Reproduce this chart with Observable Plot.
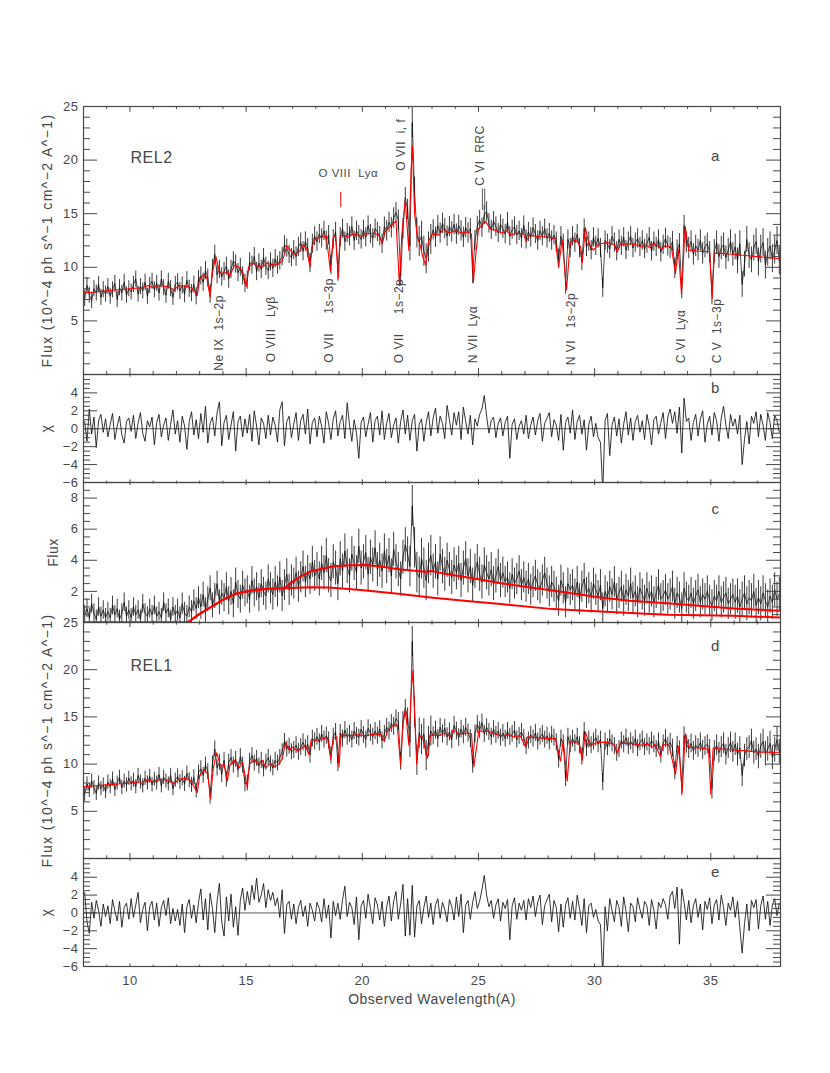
<!DOCTYPE html>
<html><head><meta charset="utf-8">
<script src="https://cdn.jsdelivr.net/npm/d3@7"></script>
<script src="https://cdn.jsdelivr.net/npm/@observablehq/plot@0.6"></script>
<style>
html,body{margin:0;padding:0;background:#fff;width:830px;height:1073px;overflow:hidden}
#fig{position:relative;width:830px;height:1073px;background:#fff}
</style></head><body><div id="fig"></div>
<script>
// ---- bin grid (bin centres in Å) ----
const binStart = 8.05, binStep = 0.1;

// ---- panel a : REL2 flux (10^-4 ph s^-1 cm^-2 A^-1) ----
const fluxA = [
7.1,8.3,7.4,6.9,8.0,7.6,8.4,7.2,7.9,7.5,
8.2,7.3,7.9,8.5,7.0,8.1,7.6,8.6,7.4,8.0,
7.7,8.4,8.9,7.5,8.2,7.8,8.6,7.3,8.3,8.7,
7.9,8.5,7.6,8.9,8.1,7.4,8.7,8.0,7.2,8.4,
8.6,7.8,8.3,7.5,8.8,8.0,7.6,8.4,7.3,8.9,
9.2,8.6,9.7,9.0,7.5,9.9,11.2,9.3,9.8,9.1,
9.6,10.1,8.9,9.8,10.6,10.3,9.5,10.0,9.2,8.5,
8.8,10.5,10.2,11.0,9.6,10.4,9.8,10.9,10.1,9.7,
10.5,9.9,10.8,10.2,10.6,11.0,12.1,11.8,11.2,10.9,
11.6,11.0,11.9,12.3,11.5,12.4,11.8,10.4,12.2,12.9,
12.4,13.1,12.7,13.4,12.5,13.0,10.2,12.6,13.3,9.6,
12.8,13.6,12.4,13.2,12.9,13.8,12.5,13.4,13.0,12.6,
13.5,12.8,13.9,13.1,12.7,13.6,13.3,12.9,12.2,13.8,
13.4,14.2,13.7,14.6,15.1,14.4,9.2,13.6,16.5,15.4,
12.0,23.5,17.0,13.2,12.4,12.9,11.5,10.8,11.9,12.6,
13.5,12.8,13.9,13.2,14.1,13.6,12.9,13.8,13.3,14.0,
13.1,13.9,13.4,12.8,13.7,13.2,13.6,9.4,12.5,13.8,
14.4,13.7,14.9,15.2,14.1,13.5,14.3,13.8,13.2,14.0,
13.6,13.1,14.2,12.9,13.5,13.8,13.0,13.4,12.7,13.9,
12.6,13.3,12.8,13.7,13.1,12.5,13.4,12.9,13.6,12.7,
13.2,12.5,13.0,12.4,10.8,12.9,12.2,8.4,12.6,11.8,
12.9,12.3,13.1,11.8,10.6,13.6,11.9,12.4,11.6,12.8,
12.0,12.7,11.8,8.1,12.5,12.2,11.7,12.9,12.3,11.5,
12.6,12.0,12.8,11.6,12.4,12.9,11.8,12.3,12.7,11.9,
12.5,11.7,12.2,12.8,11.5,12.4,11.9,12.6,11.4,12.1,
12.7,12.0,11.8,12.4,9.9,11.6,12.2,8.0,13.9,12.3,
11.8,12.4,11.2,12.0,11.6,12.5,11.3,11.9,12.2,11.4,
7.6,11.5,12.3,11.0,11.8,12.1,10.9,11.6,12.4,11.2,
11.9,10.6,12.2,8.4,10.3,12.6,11.1,10.7,11.8,12.4,
10.5,11.7,12.3,10.2,11.4,12.0,10.8,11.6,12.5,10.6];
// 1-sigma error per 1-Å block (8..37 Å)
const errA = [0.75,0.75,0.75,0.75,0.8,0.85,0.85,0.85,0.85,0.9,0.9,0.9,0.9,0.95,1.4,0.95,0.95,0.9,0.9,0.9,0.9,0.9,0.9,0.9,0.9,0.95,1.0,1.1,1.2,1.3];
const modelA = [[8.0,7.6],[8.5,7.7],[9.0,7.8],[9.5,7.9],[10.0,8.0],[10.5,8.1],[10.8,8.3],[11.0,8.1],[11.2,8.3],[11.6,8.2],[11.9,7.9],[12.1,8.3],[12.5,8.2],[12.7,8.0],[12.9,7.4],[13.0,8.9],[13.15,9.3],[13.3,9.1],[13.45,7.2],[13.55,9.5],[13.7,11.0],[13.85,9.6],[14.0,9.4],[14.2,9.6],[14.3,9.2],[14.5,10.2],[14.7,10.0],[14.85,9.6],[15.0,8.2],[15.1,10.0],[15.3,10.4],[15.5,10.1],[15.7,10.0],[15.9,10.4],[16.0,10.3],[16.2,10.2],[16.4,10.3],[16.55,10.6],[16.65,11.2],[16.75,12.0],[16.9,11.6],[17.1,11.2],[17.3,11.5],[17.45,12.1],[17.6,11.8],[17.75,10.0],[17.85,12.0],[18.0,12.7],[18.2,12.8],[18.45,12.9],[18.63,9.6],[18.75,12.8],[18.85,12.9],[18.97,9.0],[19.05,12.9],[19.2,13.0],[19.4,12.8],[19.6,13.1],[19.8,13.0],[20.0,12.9],[20.2,13.1],[20.5,13.2],[20.7,13.0],[20.87,12.3],[21.0,13.4],[21.2,13.8],[21.45,14.3],[21.6,8.3],[21.7,13.0],[21.85,16.3],[22.0,11.6],[22.1,19.0],[22.16,21.3],[22.25,15.0],[22.37,12.8],[22.5,12.0],[22.6,11.0],[22.73,10.2],[22.85,12.4],[23.0,13.1],[23.3,13.0],[23.5,13.6],[23.7,13.2],[24.0,13.4],[24.3,13.2],[24.5,13.3],[24.7,13.1],[24.78,8.6],[24.9,11.5],[25.0,13.6],[25.1,13.8],[25.3,14.3],[25.5,13.6],[25.8,13.4],[26.0,13.2],[26.2,13.4],[26.4,13.0],[26.6,13.2],[26.95,13.1],[27.05,12.4],[27.2,13.0],[27.5,12.9],[28.0,12.8],[28.3,12.7],[28.45,10.0],[28.6,12.6],[28.79,7.9],[28.95,12.3],[29.2,12.6],[29.4,11.9],[29.47,10.4],[29.6,13.7],[29.75,12.2],[29.95,11.6],[30.2,12.2],[30.6,12.3],[30.85,12.1],[30.97,11.4],[31.1,12.1],[31.5,12.2],[31.8,12.1],[32.0,11.9],[32.2,12.1],[32.4,11.8],[32.5,12.2],[32.7,12.0],[32.9,11.7],[33.0,12.0],[33.3,11.9],[33.48,9.4],[33.6,11.7],[33.74,7.5],[33.9,13.8],[34.05,11.6],[34.5,11.5],[34.95,11.45],[35.06,7.1],[35.15,11.3],[35.5,11.3],[36.0,11.2],[36.5,11.1],[37.0,11.0],[37.5,10.9],[38.0,10.8]];

// ---- panel b : residuals chi (REL2) ----
const chiB = [
0.8,-1.4,2.2,-0.6,1.3,-2.1,0.9,1.6,-0.4,1.1,
-0.9,0.5,1.7,-1.2,0.3,1.4,-0.7,-1.6,0.8,1.2,
-0.3,1.5,-1.1,0.6,1.8,-0.5,-1.4,0.9,0.2,1.3,
-1.8,0.7,1.6,-0.9,0.4,1.2,-1.3,0.5,2.1,-0.6,
0.9,-1.5,1.4,0.3,-2.3,0.8,1.9,-0.7,1.0,-1.1,
1.7,-0.4,2.5,-1.6,0.6,1.3,-0.8,1.8,3.0,-1.9,
0.7,1.5,-1.2,0.4,1.9,-2.5,0.8,1.4,-0.9,1.1,
-0.5,1.6,-1.4,2.0,0.3,-1.8,1.2,0.6,-1.1,1.5,
-0.7,1.3,0.4,-1.5,2.1,3.0,-1.9,0.8,1.4,-1.0,
0.5,1.8,-1.3,0.9,1.6,-0.6,2.2,-1.7,0.7,1.2,
-0.9,1.4,0.3,-1.6,1.9,0.6,-1.2,1.1,2.0,-0.8,
0.8,1.5,-1.1,2.9,0.4,-1.4,1.0,-0.5,-3.3,0.7,
1.3,-0.9,0.5,1.8,-1.5,0.9,1.4,-0.7,2.0,-1.2,
0.6,1.7,-1.0,0.4,1.2,-1.6,0.8,2.1,-0.6,1.5,
-1.3,0.9,1.6,-2.5,0.5,1.1,-1.4,0.7,1.9,-0.8,
1.2,2.3,-0.5,1.4,0.6,-1.1,2.6,1.0,-0.7,1.8,
0.4,1.9,-1.2,2.4,0.8,-0.6,1.5,-1.8,1.1,0.3,
1.6,2.2,3.7,1.4,-0.5,0.9,1.3,-1.0,0.6,1.2,
-0.8,0.7,1.4,-3.3,0.5,1.1,-1.2,0.3,0.9,-0.6,
1.5,-1.1,0.4,1.3,-0.7,0.9,1.7,-1.4,0.6,1.2,
1.8,-0.9,1.0,0.4,-1.3,1.6,-2.4,0.7,1.3,-0.5,
2.1,-1.2,0.8,1.5,-0.6,1.0,-2.4,0.5,1.4,-0.9,
0.6,-1.0,-1.5,-7.0,0.9,1.7,-3.0,0.4,1.3,-0.8,
1.1,-1.6,0.5,1.9,-0.7,1.2,-1.3,0.8,1.5,-0.4,
0.9,-1.2,1.6,0.3,-1.8,1.0,1.4,-0.6,0.7,1.8,
-1.1,1.3,2.2,0.6,1.9,-0.5,2.4,-2.7,3.4,0.8,
1.2,-1.3,0.7,1.6,-0.8,1.1,2.0,-1.5,0.5,1.4,
-0.7,1.8,0.9,-1.4,1.2,2.5,0.4,-1.1,1.6,0.3,
1.1,-0.6,1.5,-4.0,-1.2,0.8,-1.7,1.4,0.6,1.9,
-0.9,1.6,0.4,-1.3,1.8,0.7,-1.1,1.5,0.9,-0.4];

// ---- panel c : flux with two model components ----
const fluxC = [
0.5,0.9,0.3,1.2,0.6,0.2,1.0,0.4,0.8,0.3,
0.7,0.3,1.1,0.5,0.9,0.2,0.6,1.3,0.4,0.8,
0.3,1.0,0.5,0.8,0.2,1.2,0.6,0.4,0.9,0.5,
1.1,0.4,0.7,0.3,1.3,0.6,0.9,0.2,1.0,0.5,
0.8,0.3,1.2,0.6,0.4,1.0,0.7,1.4,0.9,1.6,
1.0,1.8,0.8,1.5,2.2,1.1,1.7,2.5,1.3,1.9,
1.6,2.3,1.4,2.0,1.2,2.6,1.8,1.5,2.4,1.9,
2.1,1.5,2.7,1.9,2.3,1.6,2.5,2.0,1.7,2.8,
2.2,1.8,2.6,2.0,2.9,1.7,2.4,3.1,2.1,2.7,
2.5,3.2,2.3,2.9,3.6,2.6,3.3,2.8,3.9,3.0,
3.4,2.8,3.8,3.2,4.3,3.0,2.7,3.9,3.5,2.5,
4.1,3.3,4.6,3.6,3.0,4.4,3.8,3.2,4.9,3.5,
3.9,4.5,3.1,4.2,3.7,4.8,3.4,4.0,3.3,4.6,
3.6,4.3,3.0,4.7,3.9,3.4,2.8,4.2,5.0,4.4,
3.6,7.5,4.8,3.2,2.9,4.1,3.5,2.7,3.8,4.3,
3.3,3.9,2.8,4.4,3.6,3.1,4.0,3.4,2.9,3.7,
3.2,3.8,2.7,3.5,4.1,3.0,3.6,2.4,3.3,3.9,
3.1,2.6,3.7,3.2,2.8,3.4,2.5,3.0,3.6,2.7,
3.2,2.6,2.9,2.2,3.1,2.5,2.8,3.3,2.4,2.9,
2.3,2.8,2.1,2.6,3.0,2.4,2.2,2.7,3.2,2.5,
2.0,2.6,2.3,1.9,1.4,2.7,2.2,1.3,2.5,2.1,
2.4,1.8,2.6,1.5,2.3,2.8,1.9,2.2,1.6,2.5,
2.1,1.7,2.4,0.9,2.0,1.6,2.3,1.8,2.6,1.5,
1.9,2.3,1.4,2.1,1.7,2.5,1.6,2.0,1.3,2.2,
1.8,1.4,2.2,1.6,2.0,1.3,1.9,2.4,1.5,1.7,
2.1,1.5,1.8,2.3,1.2,1.9,1.6,0.9,2.2,1.6,
1.4,1.9,1.2,1.7,2.1,1.3,1.8,1.5,2.0,1.4,
1.1,1.7,1.4,2.0,1.3,1.6,1.9,1.2,1.5,1.8,
1.3,1.7,1.0,1.5,1.9,1.2,1.6,1.4,2.0,1.1,
1.6,1.2,1.9,1.4,1.0,1.7,1.3,2.1,1.5,1.8];
const errC = [0.6,0.6,0.6,0.6,0.7,0.8,0.9,0.9,1.0,1.0,1.1,1.1,1.1,1.1,1.3,1.1,1.1,1.1,1.0,1.0,1.0,1.0,1.0,1.0,1.0,1.0,1.0,1.0,1.1,1.1];
const modelCLow = [[8,0],[12.47,0],[13.0,0.55],[13.5,1.0],[14.0,1.45],[14.5,1.83],[15.34,2.09],[16.0,2.17],[16.63,2.2],[17.78,2.26],[18.5,2.25],[19.0,2.2],[19.93,2.09],[21.65,1.83],[22.94,1.61],[24.5,1.38],[25.96,1.19],[28.2,0.86],[30.25,0.71],[33.12,0.5],[35.98,0.43],[38,0.32]];
const modelCHigh = [[8,0],[12.47,0],[13.0,0.55],[13.5,1.0],[14.0,1.45],[14.5,1.83],[15.34,2.09],[16.0,2.17],[16.63,2.2],[17.06,2.69],[17.4,3.0],[17.78,3.29],[18.78,3.61],[19.5,3.68],[20.2,3.7],[21.0,3.55],[21.65,3.4],[22.5,3.3],[22.85,3.25],[22.94,3.32],[23.5,3.15],[24.95,2.8],[25.96,2.52],[27.0,2.3],[28.2,2.05],[30.25,1.61],[31.5,1.4],[33.12,1.23],[35.98,0.9],[38,0.75]];

// ---- panel d : REL1 flux ----
const fluxD = [
6.8,7.9,7.2,8.2,7.5,6.9,8.0,7.4,7.8,7.1,
8.1,7.6,8.4,7.3,8.0,8.6,7.5,8.2,7.8,8.5,
7.9,8.3,7.6,8.8,8.1,7.7,8.5,8.0,8.7,7.8,
8.4,8.0,8.9,7.7,8.6,8.2,7.9,8.8,7.4,8.3,
8.7,8.1,8.5,7.9,9.0,8.3,7.8,8.6,7.2,9.1,
9.5,8.8,9.9,9.2,6.6,10.0,11.6,9.6,10.2,8.9,
10.4,8.4,10.2,10.7,9.9,10.5,9.4,10.8,9.9,7.9,
8.0,10.3,10.9,10.1,10.6,9.8,10.4,9.5,10.2,10.7,
10.0,9.6,10.4,10.1,10.7,11.3,12.4,11.6,11.9,11.3,
11.5,12.0,11.3,11.8,12.3,11.7,12.1,11.0,12.7,12.4,
12.9,12.3,13.2,12.6,13.0,12.5,10.9,12.9,13.4,10.1,
13.3,12.7,13.6,12.9,13.2,12.6,13.5,13.0,12.8,13.7,
13.1,12.6,13.8,13.3,12.9,13.5,13.0,13.7,12.5,13.2,
13.9,13.5,14.3,14.0,14.8,14.5,10.3,14.6,15.9,15.0,
12.3,23.0,15.5,10.4,13.3,12.6,13.2,10.9,12.4,13.5,
13.0,13.6,12.7,13.9,13.2,13.8,12.9,13.4,12.6,14.1,
13.5,12.8,13.7,13.1,13.9,13.3,12.7,10.0,13.2,14.2,
13.6,14.4,13.2,13.9,13.4,12.9,13.7,13.1,13.5,12.8,
13.3,12.7,13.5,12.9,13.2,13.6,12.6,13.0,13.4,12.8,
11.9,12.5,13.1,12.7,13.3,12.4,12.9,13.2,12.6,13.0,
12.4,13.1,12.8,12.3,10.5,12.7,12.2,8.5,12.9,12.1,
12.7,12.2,12.9,12.0,10.8,13.5,11.7,12.6,12.0,12.4,
12.8,12.1,12.6,8.1,12.4,11.8,12.7,12.2,11.9,11.2,
11.6,12.5,12.1,12.8,11.9,12.4,12.0,12.7,11.7,12.3,
12.6,11.8,12.3,11.9,12.5,12.1,11.6,12.4,11.0,12.2,
12.7,11.9,12.3,11.7,9.3,12.0,11.5,7.6,13.0,12.1,
11.6,12.2,11.4,12.0,11.7,12.3,11.5,11.9,12.1,11.6,
7.4,11.4,12.0,11.2,11.8,12.2,11.0,11.7,12.3,11.3,
12.1,11.0,11.7,8.8,10.9,11.6,11.8,12.5,11.2,11.6,
10.8,11.9,12.4,11.1,11.6,12.2,10.7,11.5,12.6,11.3];
const errD = [0.75,0.75,0.75,0.75,0.8,0.85,0.85,0.85,0.85,0.9,0.9,0.9,0.9,0.95,1.6,0.95,0.95,0.9,0.9,0.9,0.9,0.9,0.9,0.9,0.9,0.95,1.0,1.1,1.2,1.3];
const modelD = [[8.0,7.6],[8.5,7.7],[9.0,7.8],[9.5,7.9],[10.0,8.0],[10.5,8.1],[10.8,8.35],[11.0,8.1],[11.3,8.4],[11.6,8.3],[11.9,7.9],[12.1,8.4],[12.4,8.5],[12.6,8.3],[12.9,7.0],[13.0,8.8],[13.2,9.4],[13.35,8.9],[13.47,6.3],[13.58,9.5],[13.73,11.2],[13.9,9.8],[14.05,10.0],[14.19,8.2],[14.3,9.9],[14.5,10.4],[14.7,9.6],[14.85,10.2],[15.05,7.5],[15.15,10.0],[15.35,10.5],[15.5,10.0],[15.7,10.4],[15.85,9.6],[16.05,10.1],[16.2,9.7],[16.4,10.0],[16.55,10.5],[16.7,12.3],[16.85,11.5],[17.0,11.8],[17.2,11.4],[17.35,11.6],[17.55,12.0],[17.7,11.0],[17.8,12.6],[18.0,12.5],[18.3,12.7],[18.5,12.8],[18.64,10.5],[18.75,12.8],[18.9,12.9],[19.0,9.7],[19.08,13.1],[19.4,13.0],[19.8,13.1],[20.2,13.0],[20.5,13.2],[20.8,13.1],[20.95,12.4],[21.1,13.6],[21.3,14.0],[21.5,14.2],[21.65,9.8],[21.75,14.2],[21.86,15.8],[22.0,12.0],[22.1,17.5],[22.18,19.9],[22.34,10.0],[22.45,13.0],[22.6,12.8],[22.8,10.6],[22.95,13.1],[23.3,13.0],[23.6,13.3],[23.8,12.8],[23.9,13.6],[24.2,13.2],[24.5,13.3],[24.7,13.2],[24.8,9.7],[25.02,13.6],[25.2,13.4],[25.4,13.5],[25.7,13.2],[25.96,13.0],[26.3,13.1],[26.5,12.9],[26.8,13.0],[27.03,11.8],[27.1,12.9],[27.5,12.8],[28.0,12.7],[28.32,12.7],[28.53,10.3],[28.65,12.5],[28.82,8.2],[28.95,12.3],[29.2,12.4],[29.35,12.0],[29.47,10.4],[29.6,13.4],[29.8,11.9],[30.1,12.3],[30.5,12.3],[30.85,12.1],[30.97,11.1],[31.1,12.2],[31.5,12.2],[32.0,12.0],[32.3,12.1],[32.5,11.8],[32.6,12.1],[32.83,10.8],[32.95,12.1],[33.2,12.0],[33.48,8.9],[33.62,11.9],[33.77,7.0],[33.9,13.2],[34.05,11.8],[34.5,11.7],[34.9,11.6],[35.0,6.8],[35.1,11.7],[35.5,11.6],[36.0,11.5],[36.5,11.4],[37.0,11.3],[37.5,11.25],[38.0,11.2]];

// ---- panel e : residuals chi (REL1) ----
const chiE = [
2.3,-1.0,-2.3,1.2,-0.6,1.4,0.3,-1.5,1.0,-0.4,
0.8,-1.2,1.5,0.2,-0.9,1.3,-1.6,0.6,1.1,-0.7,
1.6,-0.5,0.9,2.3,-1.1,0.4,1.2,-2.0,0.7,1.3,
-0.8,1.1,-1.5,0.6,1.4,-0.3,1.7,-1.2,0.5,-0.9,
0.4,-1.4,1.0,-2.2,0.7,1.5,-0.6,0.9,-1.1,1.2,
2.7,-0.8,1.6,-1.9,2.2,0.5,-2.2,1.3,3.3,-1.0,
-2.6,1.8,-0.9,2.1,-1.6,0.7,-2.5,1.4,2.8,0.3,
2.4,0.9,3.1,1.5,3.9,1.2,2.0,3.3,0.6,2.6,
1.4,2.3,0.8,1.7,-0.5,2.6,-2.3,0.9,1.3,-0.7,
1.0,-1.2,0.6,1.4,-0.4,0.8,-1.5,1.1,0.3,-0.9,
1.2,0.5,-1.0,1.6,-0.6,0.9,-2.8,1.3,-0.3,1.1,
-0.7,1.5,3.0,-0.4,1.2,0.6,-1.3,1.8,-3.0,0.8,
1.4,-0.6,2.1,0.5,-1.2,1.7,0.9,-0.8,1.3,-1.5,
0.7,1.9,-0.9,1.3,2.4,-0.7,1.0,3.2,-2.6,1.6,
-2.5,3.1,-2.7,0.8,1.4,-1.2,0.6,1.9,-0.5,1.1,
-1.3,0.9,1.6,-0.6,1.2,0.4,-1.0,1.5,0.7,-0.8,
1.8,-0.4,2.1,-2.2,0.9,1.4,-0.7,1.2,2.4,0.5,
1.3,2.6,4.2,2.0,0.7,1.4,-0.6,0.9,1.6,-0.9,
1.2,0.5,1.5,-3.0,0.8,1.7,-0.7,1.1,0.3,1.4,
-0.8,1.6,0.6,1.9,-0.4,1.2,2.0,-1.3,0.8,1.5,
2.1,-1.0,1.4,0.6,-2.1,1.0,-1.6,0.9,1.7,-0.6,
1.3,-0.8,2.0,0.5,-1.4,1.6,-2.2,0.8,1.1,-0.5,
0.4,-0.9,-1.3,-7.0,0.7,-2.0,1.6,0.3,-1.0,1.4,
0.6,-1.5,1.8,0.2,-2.1,1.1,0.7,-1.0,1.7,0.4,
-0.6,1.3,0.8,-1.4,1.5,0.3,-1.8,1.2,0.6,1.6,
0.9,-0.7,1.9,2.4,0.5,2.9,-3.5,2.7,1.2,-0.8,
1.4,-1.1,0.8,1.6,-0.5,1.0,-1.9,1.3,0.4,1.7,
-1.2,0.9,1.5,-0.8,2.0,0.6,-1.4,1.1,0.3,1.8,
-0.5,1.3,-1.6,-4.5,-1.2,1.0,-2.0,1.4,0.6,1.5,
-1.8,0.8,1.9,-0.7,1.3,-1.4,0.9,1.6,-0.3,1.1];

// ---- line identifications (panel a) ----
const lineLabels = [
  {t: "Ne IX  1s\u22122p", w: 13.83, y: 0.35},
  {t: "O VIII   Ly\u03b2", w: 16.06, y: 1.15},
  {t: "O VII     1s\u22123p", w: 18.56, y: 1.1},
  {t: "O VII     1s\u22122p", w: 21.58, y: 1.05},
  {t: "N VII  Ly\u03b1", w: 24.78, y: 1.05},
  {t: "N VI   1s\u22122p", w: 28.99, y: 0.87},
  {t: "C VI  Ly\u03b1", w: 33.71, y: 1.05},
  {t: "C V  1s\u22123p", w: 35.28, y: 1.05},
  {t: "O VII  i, f", w: 21.68, y: 19.0},
  {t: "C VI  RRC", w: 25.09, y: 17.6}
];
const topLabel = [{t: "O VIII  Ly\u03b1", w: 19.4, y: 18.8}];
const redMarker = [{w: 19.07, y1: 15.6, y2: 17.0}];
const rrcMarker = [{w: 25.17, y1: 15.3, y2: 17.3}, {w: 25.27, y1: 15.3, y2: 17.3}];

// ---- ticks ----
const xMajor = [10,15,20,25,30,35];
const xMinor = [9,11,12,13,14,16,17,18,19,21,22,23,24,26,27,28,29,31,32,33,34,36,37];
const fluxMajor = [5,10,15,20];
const fluxMinor = [1,2,3,4,6,7,8,9,11,12,13,14,16,17,18,19,21,22,23,24];
const fluxTickLabels = [5,10,15,20,25];
const chiMajor = [-4,-2,0,2,4];
const chiMinor = [-5.5,-5,-4.5,-3.5,-3,-2.5,-1.5,-1,-0.5,0.5,1,1.5,2.5,3,3.5,4.5,5,5.5];
const chiTickLabels = [-6,-4,-2,0,2,4];
const cMajor = [2,4,6,8];
const cMinor = [0.5,1,1.5,2.5,3,3.5,4.5,5,5.5,6.5,7,7.5,8.5];
const cTickLabels = [2,4,6,8];

const fluxTitle = "Flux (10^\u22124 ph s^\u22121 cm^\u22122 A^\u22121)";

// ---------------- drawing ----------------
const AX = "#474747";
const FONT = "'Liberation Sans', Arial, sans-serif";
const W = 830, XL = 83, XR = 780, PW = XR - XL;
const fig = document.getElementById("fig");

function bins(vals, errs) {
  return vals.map((v, i) => ({w: binStart + i * binStep, v, e: errs ? errs[Math.floor(i / 10)] : 0}));
}
const binsA = bins(fluxA, errA), binsC = bins(fluxC, errC), binsD = bins(fluxD, errD);
const binsB = bins(chiB), binsE = bins(chiE);

function frameMarks(h, yMaj, yMin) {
  const xtM = Math.max(2.6, 0.022 * h), xtm = xtM / 2;
  return [
    Plot.tickY(yMaj, {y: d => d, insetRight: PW - 14, stroke: AX}),
    Plot.tickY(yMaj, {y: d => d, insetLeft: PW - 14, stroke: AX}),
    Plot.tickY(yMin, {y: d => d, insetRight: PW - 7, stroke: AX}),
    Plot.tickY(yMin, {y: d => d, insetLeft: PW - 7, stroke: AX}),
    Plot.tickX(xMajor, {x: d => d, insetTop: h - xtM, stroke: AX}),
    Plot.tickX(xMajor, {x: d => d, insetBottom: h - xtM, stroke: AX}),
    Plot.tickX(xMinor, {x: d => d, insetTop: h - xtm, stroke: AX}),
    Plot.tickX(xMinor, {x: d => d, insetBottom: h - xtm, stroke: AX}),
    Plot.frame({stroke: AX, strokeWidth: 1.2})
  ];
}
function yLabels(ticks) {
  return Plot.axisY({ticks, tickSize: 0, tickPadding: 5, label: null, fontSize: 13, fill: AX});
}
function yTitle(text, dx) {
  return Plot.text([text], {frameAnchor: "left", dx, rotate: -90, lineAnchor: "middle", textAnchor: "middle", fontSize: 14, fill: AX});
}
function letter(t, dy) {
  return Plot.text([t], {frameAnchor: "top-left", dx: 632, dy, lineAnchor: "bottom", textAnchor: "middle", fontSize: 15, fill: AX});
}
function dataMarks(b, model) {
  return [
    Plot.ruleX(b, {x: "w", y1: d => d.v - d.e, y2: d => d.v + d.e, stroke: "#3c3c3c", strokeWidth: 1, clip: true}),
    Plot.line(b, {x: "w", y: "v", stroke: "#000", strokeWidth: 0.7, clip: true}),
    Plot.line(model, {x: d => d[0], y: d => d[1], stroke: "#ff0000", strokeWidth: 1.1, clip: true})
  ];
}
function chiMarks(b) {
  return [
    Plot.ruleY([0], {stroke: AX, strokeWidth: 0.9}),
    Plot.line(b, {x: "w", y: "v", stroke: "#111", strokeWidth: 0.85, clip: true})
  ];
}
function addPanel(top, h, yDomain, marks, mb = 0) {
  const svg = Plot.plot({
    width: W, height: h + mb,
    marginLeft: XL, marginRight: W - XR, marginTop: 0, marginBottom: mb,
    x: {domain: [8, 38], axis: null}, y: {domain: yDomain, axis: null},
    style: {background: "transparent", overflow: "visible", fontFamily: FONT, fontSize: "13px", color: AX, letterSpacing: "0.5px"},
    marks
  });
  svg.style.position = "absolute"; svg.style.top = top + "px"; svg.style.left = "0px";
  d3.select(svg).selectAll("text").filter(function () { return this.textContent.startsWith("Flux ("); })
    .attr("letter-spacing", "1.4");
  fig.appendChild(svg);
  return svg;
}

// panel a
addPanel(106, 268, [0, 25], [
  ...dataMarks(binsA, modelA),
  Plot.ruleX(redMarker, {x: "w", y1: "y1", y2: "y2", stroke: "#ff0000", strokeWidth: 1}),
  Plot.ruleX(rrcMarker, {x: "w", y1: "y1", y2: "y2", stroke: AX, strokeWidth: 0.9}),
  Plot.text(lineLabels, {x: "w", y: "y", text: "t", rotate: -90, textAnchor: "start", lineAnchor: "middle", fontSize: 12, fill: AX}),
  Plot.text(topLabel, {x: "w", y: "y", text: "t", textAnchor: "middle", lineAnchor: "middle", fontSize: 11.5, fill: AX}),
  Plot.text(["REL2"], {frameAnchor: "top-left", dx: 47, dy: 56, lineAnchor: "bottom", fontSize: 16, fill: AX}),
  letter("a", 54),
  yLabels(fluxTickLabels),
  yTitle(fluxTitle, -36),
  ...frameMarks(268, fluxMajor, fluxMinor)
]);

// panel b
addPanel(374, 108, [-6, 6.05], [
  ...chiMarks(binsB),
  letter("b", 18),
  yLabels(chiTickLabels),
  yTitle("\u03c7", -37),
  ...frameMarks(108, chiMajor, chiMinor)
]);

// panel c
addPanel(482, 140, [0, 9], [
  Plot.ruleX(binsC, {x: "w", y1: d => d.v - d.e, y2: d => d.v + d.e, stroke: "#3c3c3c", strokeWidth: 1, clip: true}),
  Plot.line(binsC, {x: "w", y: "v", stroke: "#000", strokeWidth: 0.7, clip: true}),
  Plot.line(modelCLow, {x: d => d[0], y: d => d[1], stroke: "#ff0000", strokeWidth: 2, clip: true}),
  Plot.line(modelCHigh, {x: d => d[0], y: d => d[1], stroke: "#ff0000", strokeWidth: 2, clip: true}),
  letter("c", 31),
  yLabels(cTickLabels),
  yTitle("Flux", -30),
  ...frameMarks(140, cMajor, cMinor)
]);

// panel d
addPanel(622, 236, [0, 25], [
  ...dataMarks(binsD, modelD),
  Plot.text(["REL1"], {frameAnchor: "top-left", dx: 47, dy: 48, lineAnchor: "bottom", fontSize: 16, fill: AX}),
  letter("d", 28),
  yLabels(fluxTickLabels),
  yTitle(fluxTitle, -36),
  ...frameMarks(236, fluxMajor, fluxMinor)
]);

// panel e
addPanel(858, 108, [-6, 6.1], [
  ...chiMarks(binsE),
  letter("e", 18),
  yLabels(chiTickLabels),
  yTitle("\u03c7", -37),
  Plot.axisX({ticks: xMajor, tickSize: 0, tickPadding: 9, label: null, fontSize: 13, fill: AX, anchor: "bottom"}),
  Plot.text(["Observed Wavelength(A)"], {frameAnchor: "bottom", dy: 37, lineAnchor: "bottom", textAnchor: "middle", fontSize: 14, fill: AX}),
  ...frameMarks(108, chiMajor, chiMinor)
], 60);
</script>
</body></html>
